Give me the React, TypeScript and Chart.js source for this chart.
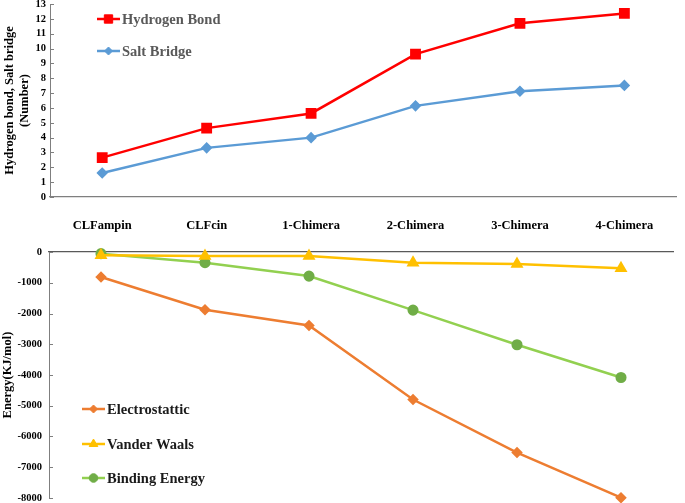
import React, { useEffect, useRef } from 'react';
import { Chart, registerables } from 'chart.js';
import { drawPoint } from 'chart.js/helpers';

Chart.register(...registerables);

const categories = ['CLFampin', 'CLFcin', '1-Chimera', '2-Chimera', '3-Chimera', '4-Chimera'];
const hydrogenBond = [2.65, 4.64, 5.63, 9.63, 11.7, 12.37];
const saltBridge = [1.62, 3.31, 4.0, 6.14, 7.13, 7.52];
const electrostatic = [-814, -1877, -2388, -4798, -6524, -7990];
const vanderWaals = [-107, -130, -130, -346, -390, -531];
const bindingEnergy = [-53, -346, -782, -1889, -3016, -4081];

const topTitle = ['Hydrogen bond, Salt bridge', '(Number)'];
const bottomTitle = 'Energy(KJ/mol)';

const FAMILY = '"Liberation Serif", "Times New Roman", serif';
const AXIS = '#7f7f7f';

function legendPlugin(items: { x: number; y: number }[], textColor: string) {
  return {
    id: 'customLegend',
    afterDraw(chart: any) {
      const ctx = chart.ctx;
      chart.data.datasets.forEach((ds: any, i: number) => {
        const p = items[i];
        if (!p) return;
        ctx.save();
        ctx.strokeStyle = ds.borderColor;
        ctx.lineWidth = ds.borderWidth;
        ctx.beginPath();
        ctx.moveTo(p.x, p.y);
        ctx.lineTo(p.x + 23, p.y);
        ctx.stroke();
        ctx.fillStyle = ds.pointBackgroundColor;
        ctx.strokeStyle = ds.pointBorderColor;
        ctx.lineWidth = 1;
        drawPoint(ctx, { pointStyle: ds.pointStyle, radius: ds.pointRadius, borderWidth: 1, rotation: 0 } as any, p.x + 11.5, p.y);
        ctx.font = 'bold 14.5px ' + FAMILY;
        ctx.fillStyle = textColor;
        ctx.textBaseline = 'middle';
        ctx.textAlign = 'left';
        ctx.fillText(ds.label, p.x + 25, p.y + 1);
        ctx.restore();
      });
    },
  };
}

const innerTicks = {
  id: 'innerTicks',
  beforeDatasetsDraw(chart: any) {
    const ctx = chart.ctx;
    const y = chart.scales.y;
    const x0 = chart.chartArea.left;
    ctx.save();
    ctx.strokeStyle = AXIS;
    ctx.lineWidth = 1;
    y.ticks.forEach((_t: any, i: number) => {
      const py = Math.round(y.getPixelForTick(i)) + 0.5;
      ctx.beginPath();
      ctx.moveTo(x0, py);
      ctx.lineTo(x0 + 4, py);
      ctx.stroke();
    });
    ctx.restore();
  },
};

const plainNumber = (v: any) => String(v);

export default function App() {
  const topRef = useRef<HTMLCanvasElement>(null);
  const botRef = useRef<HTMLCanvasElement>(null);

  useEffect(() => {
    const c1 = new Chart(topRef.current as HTMLCanvasElement, {
      type: 'line',
      data: {
        labels: categories,
        datasets: [
          {
            label: 'Hydrogen Bond',
            data: hydrogenBond,
            borderColor: '#FF0000',
            backgroundColor: '#FF0000',
            pointBackgroundColor: '#FF0000',
            pointBorderColor: '#FF0000',
            pointStyle: 'rect',
            pointRadius: 5.9,
            borderWidth: 2.5,
            clip: false as any,
          } as any,
          {
            label: 'Salt Bridge',
            data: saltBridge,
            borderColor: '#5B9BD5',
            backgroundColor: '#5B9BD5',
            pointBackgroundColor: '#5B9BD5',
            pointBorderColor: '#5B9BD5',
            pointStyle: 'rectRot',
            pointRadius: 4,
            borderWidth: 2.5,
            clip: false as any,
          } as any,
        ],
      },
      options: {
        responsive: false,
        animation: false,
        layout: { padding: { top: 0, right: 1, left: 0, bottom: 0 } },
        plugins: { legend: { display: false }, tooltip: { enabled: false } },
        scales: {
          x: {
            offset: true,
            grid: { display: false, drawTicks: false },
            border: { display: true, color: AXIS, width: 1.3 },
            ticks: {
              color: '#000',
              font: { family: FAMILY, size: 12.5, weight: 'bold' },
              padding: 21,
              maxRotation: 0,
              autoSkip: false,
            },
            afterFit: (s: any) => {
              s.height = 43;
            },
          },
          y: {
            min: 0,
            max: 13,
            grid: { display: false, drawTicks: false },
            border: { display: true, color: AXIS },
            ticks: {
              stepSize: 1,
              maxTicksLimit: 20,
              autoSkip: false,
              color: '#000',
              font: { family: FAMILY, size: 10.5, weight: 'bold', lineHeight: 1.15 },
              padding: 4,
              callback: plainNumber,
            },
            title: {
              display: true,
              text: topTitle,
              color: '#000',
              font: { family: FAMILY, size: 12.5, weight: 'bold' },
              padding: { top: 2.5, bottom: 0 },
            },
            afterFit: (s: any) => {
              s.width = 50;
            },
          },
        },
      } as any,
      plugins: [innerTicks, legendPlugin([{ x: 97, y: 25 }, { x: 97, y: 57 }], '#595959')],
    });

    const c2 = new Chart(botRef.current as HTMLCanvasElement, {
      type: 'line',
      data: {
        labels: categories,
        datasets: [
          {
            label: 'Electrostattic',
            data: electrostatic,
            borderColor: '#ED7D31',
            backgroundColor: '#ED7D31',
            pointBackgroundColor: '#ED7D31',
            pointBorderColor: '#ED7D31',
            pointStyle: 'rectRot',
            pointRadius: 4,
            borderWidth: 2.5,
            clip: false as any,
          } as any,
          {
            label: 'Vander Waals',
            data: vanderWaals,
            borderColor: '#FFC000',
            backgroundColor: '#FFC000',
            pointBackgroundColor: '#FFC000',
            pointBorderColor: '#FFC000',
            pointStyle: 'triangle',
            pointRadius: 5,
            borderWidth: 2.5,
            clip: false as any,
          } as any,
          {
            label: 'Binding Energy',
            data: bindingEnergy,
            borderColor: '#92D050',
            backgroundColor: '#70AD47',
            pointBackgroundColor: '#70AD47',
            pointBorderColor: '#70AD47',
            pointStyle: 'circle',
            pointRadius: 4.3,
            borderWidth: 2.5,
            clip: false as any,
          } as any,
        ],
      },
      options: {
        responsive: false,
        animation: false,
        layout: { padding: { top: 0, right: 12, left: 0, bottom: 0 } },
        plugins: { legend: { display: false }, tooltip: { enabled: false } },
        scales: {
          x: {
            position: 'top',
            offset: true,
            grid: { display: false, drawTicks: false },
            border: { display: true, color: '#595959', width: 1.3 },
            ticks: { display: false },
            afterFit: (s: any) => {
              s.height = 0;
            },
          },
          y: {
            min: -8000,
            max: 0,
            grid: { display: false, drawTicks: false },
            border: { display: true, color: AXIS },
            ticks: {
              stepSize: 1000,
              maxTicksLimit: 20,
              autoSkip: false,
              color: '#000',
              font: { family: FAMILY, size: 10.5, weight: 'bold', lineHeight: 1.15 },
              padding: 7,
              callback: plainNumber,
            },
            title: {
              display: true,
              text: bottomTitle,
              color: '#000',
              font: { family: FAMILY, size: 12.5, weight: 'bold' },
              padding: { top: 0, bottom: 0 },
            },
            afterFit: (s: any) => {
              s.width = 49;
            },
          },
        },
      } as any,
      plugins: [
        innerTicks,
        legendPlugin(
          [
            { x: 82, y: 170 },
            { x: 82, y: 205 },
            { x: 82, y: 239 },
          ],
          '#1a1a1a'
        ),
      ],
    });

    return () => {
      c1.destroy();
      c2.destroy();
    };
  }, []);

  return (
    <div
      style={{
        position: 'absolute',
        left: 0,
        top: 0,
        width: 685,
        height: 503,
        background: '#fff',
        overflow: 'hidden',
      }}
    >
      <canvas ref={topRef} width={685} height={246} style={{ position: 'absolute', left: 0, top: -6 }} />
      <canvas ref={botRef} width={685} height={272} style={{ position: 'absolute', left: 0, top: 239 }} />
    </div>
  );
}
